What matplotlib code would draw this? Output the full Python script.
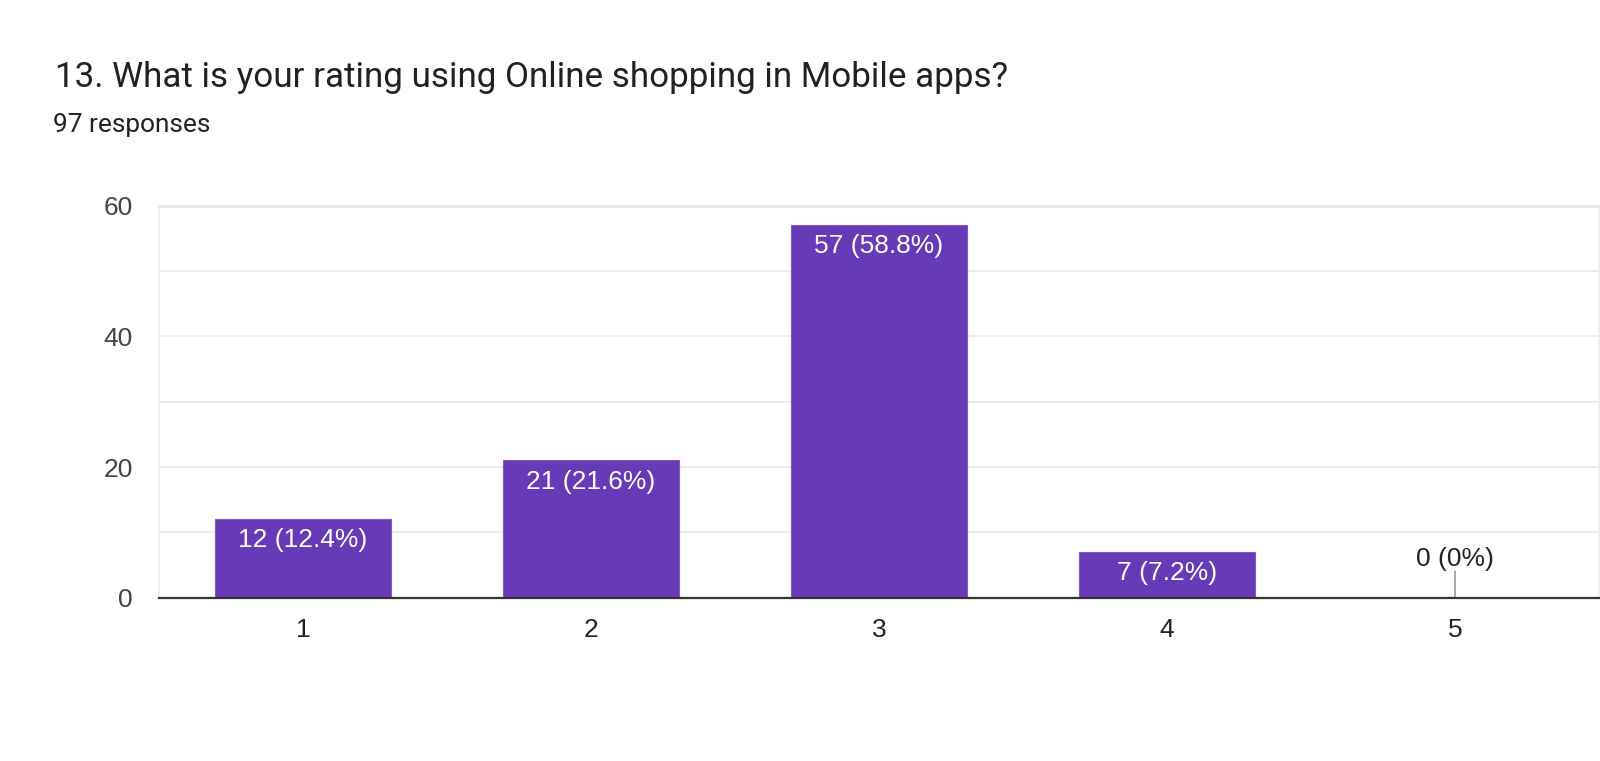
import numpy as np
import matplotlib.pyplot as plt

plt.rcParams["font.family"] = ["Liberation Sans", "DejaVu Sans"]

# Data
ratings = ["1", "2", "3", "4", "5"]
counts = [12, 21, 57, 7, 0]
percents = ["12.4%", "21.6%", "58.8%", "7.2%", "0%"]
n_responses = 97

title = "13. What is your rating using Online shopping in Mobile apps?"
subtitle = "{} responses".format(n_responses)

bar_color = "#673ab7"

# Plotting
fig = plt.figure(figsize=(16, 7.61), dpi=100)
ax = fig.add_axes([0.0994, 0.2146, 0.9, 0.5151])

x = np.arange(len(ratings))
ax.bar(x, counts, width=0.613, color=bar_color, edgecolor="#7e57c2",
       linewidth=0.8, zorder=3)

for xi, c, p in zip(x, counts, percents):
    label = "{} ({})".format(c, p)
    if c > 0:
        ax.annotate(label, xy=(xi, c), xytext=(0, -6.5),
                    textcoords="offset points", ha="center", va="top",
                    color="white", fontsize=19, zorder=4)
    else:
        ax.annotate("", xy=(xi, c), xytext=(0, 19),
                    textcoords="offset points",
                    arrowprops=dict(arrowstyle="-", color="#999999", lw=1.2,
                                    shrinkA=0, shrinkB=0), zorder=4)
        ax.annotate(label, xy=(xi, c), xytext=(0, 19),
                    textcoords="offset points", ha="center", va="bottom",
                    color="#222222", fontsize=19, zorder=4)

ax.set_xlim(-0.5, len(ratings) - 0.5)
ax.set_ylim(0, 60)
ax.set_yticks([0, 20, 40, 60])
ax.set_yticks(np.arange(0, 61, 10), minor=True)
ax.set_xticks(x)
ax.set_xticklabels(ratings)
ax.tick_params(axis="y", which="both", length=0, pad=19, labelsize=19,
               labelcolor="#444444")
ax.tick_params(axis="x", length=0, pad=14.5, labelsize=19,
               labelcolor="#222222")

ax.grid(axis="y", which="both", color="#ececec", linewidth=1.5, zorder=0)
ax.set_axisbelow(True)

for side in ["left", "right"]:
    ax.spines[side].set_color("#ececec")
    ax.spines[side].set_linewidth(1.2)
ax.spines["top"].set_color("#e8e8e8")
ax.spines["top"].set_linewidth(2.2)
ax.spines["bottom"].set_color("#333333")
ax.spines["bottom"].set_linewidth(1.6)
ax.spines["bottom"].set_zorder(5)

fig.text(0.0345, 0.886, title, fontsize=25.2, color="#202124",
         family=["Roboto", "DejaVu Sans"], ha="left", va="baseline")
fig.text(0.033, 0.827, subtitle, fontsize=18.9, color="#202124",
         family=["Roboto", "DejaVu Sans"], ha="left", va="baseline")

fig.savefig("out.png", dpi=100, facecolor="white")
